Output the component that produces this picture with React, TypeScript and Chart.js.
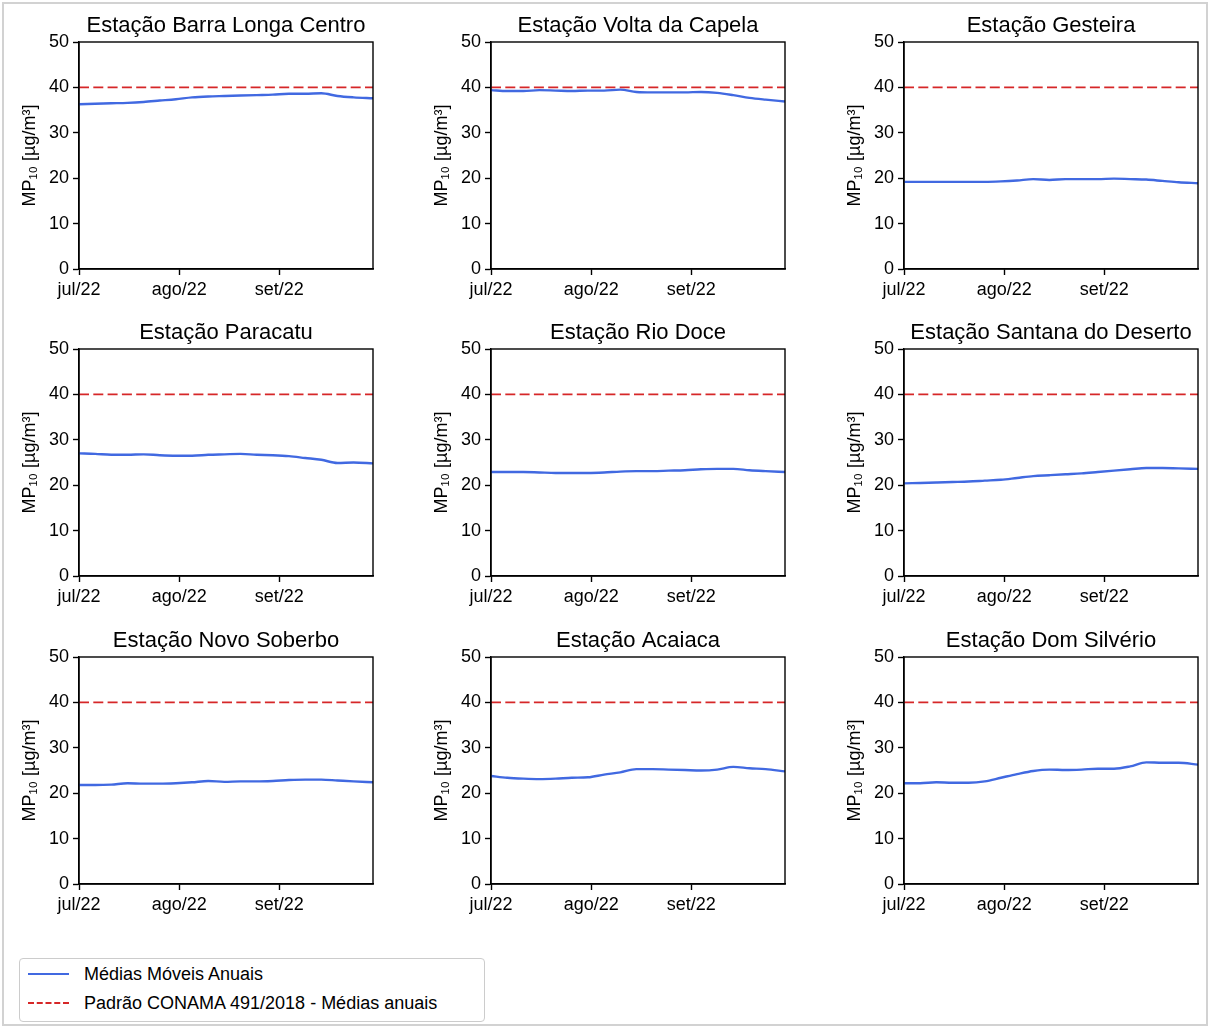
import React, { useEffect, useRef } from "react";
import { Chart, registerables } from "chart.js";

Chart.register(...registerables);

// ---------- data ----------
const days = [0, 5, 10, 15, 20, 25, 30, 35, 40, 45, 50, 55, 60, 65, 70, 75, 80, 85, 91];
const monthTicks = [0, 31, 62];
const monthLabels = ["jul/22", "ago/22", "set/22"];
const xMax = 91;
const yMin = 0;
const yMax = 50;
const yStep = 10;
const conamaLimit = 40;

const stationNames = [
  "Estação Barra Longa Centro",
  "Estação Volta da Capela",
  "Estação Gesteira",
  "Estação Paracatu",
  "Estação Rio Doce",
  "Estação Santana do Deserto",
  "Estação Novo Soberbo",
  "Estação Acaiaca",
  "Estação Dom Silvério",
];

const barraLongaCentro = [36.3, 36.4, 36.5, 36.6, 36.8, 37.1, 37.4, 37.8, 38.0, 38.1, 38.2, 38.3, 38.4, 38.6, 38.6, 38.7, 38.1, 37.8, 37.6];
const voltaDaCapela = [39.4, 39.2, 39.2, 39.4, 39.3, 39.2, 39.3, 39.3, 39.5, 39.0, 38.9, 38.9, 38.9, 39.0, 38.8, 38.3, 37.7, 37.3, 36.9];
const gesteira = [19.2, 19.2, 19.2, 19.2, 19.2, 19.2, 19.3, 19.5, 19.8, 19.6, 19.8, 19.8, 19.8, 19.9, 19.8, 19.7, 19.4, 19.1, 18.9];
const paracatu = [27.0, 26.9, 26.7, 26.7, 26.8, 26.6, 26.5, 26.5, 26.7, 26.8, 26.9, 26.7, 26.6, 26.4, 26.0, 25.6, 24.9, 25.0, 24.8];
const rioDoce = [22.9, 22.9, 22.9, 22.8, 22.7, 22.7, 22.7, 22.8, 23.0, 23.1, 23.1, 23.2, 23.3, 23.5, 23.6, 23.6, 23.3, 23.1, 22.9];
const santanaDoDeserto = [20.4, 20.5, 20.6, 20.7, 20.8, 21.0, 21.2, 21.6, 22.0, 22.2, 22.4, 22.6, 22.9, 23.2, 23.5, 23.8, 23.8, 23.7, 23.6];
const novoSoberbo = [21.8, 21.8, 21.9, 22.2, 22.1, 22.1, 22.2, 22.4, 22.7, 22.5, 22.6, 22.6, 22.7, 22.9, 23.0, 23.0, 22.8, 22.6, 22.4];
const acaiaca = [23.8, 23.4, 23.2, 23.1, 23.2, 23.4, 23.5, 24.1, 24.6, 25.3, 25.3, 25.2, 25.1, 25.0, 25.2, 25.8, 25.5, 25.3, 24.8];
const domSilverio = [22.2, 22.2, 22.4, 22.3, 22.3, 22.6, 23.4, 24.2, 24.9, 25.2, 25.1, 25.2, 25.4, 25.4, 25.9, 26.8, 26.7, 26.7, 26.3];

const stationSeries = [
  barraLongaCentro,
  voltaDaCapela,
  gesteira,
  paracatu,
  rioDoce,
  santanaDoDeserto,
  novoSoberbo,
  acaiaca,
  domSilverio,
];

const seriesLabel = "Médias Móveis Anuais";
const limitLabel = "Padrão CONAMA 491/2018 - Médias anuais";
const yAxisLabel = "MP₁₀ [µg/m³]";

// ---------- style ----------
const FONT = "'Liberation Sans', Arial, Helvetica, sans-serif";
const BLUE = "#4169e1";
const RED = "#d62728";
const DASH = [10, 4.3];

const colLefts = [0, 412, 825];
const rowTops = [0, 307, 615];
const PLOT_W = 294;
const PLOT_H = 227;
const LEFT_M = 79;
const TOP_M = 42;
const RIGHT_M = 8;
const BOTTOM_M = 40;
const CANVAS_W = LEFT_M + PLOT_W + RIGHT_M;
const CANVAS_H = TOP_M + PLOT_H + BOTTOM_M;

const framePlugin = {
  id: "frame",
  afterDatasetsDraw(chart: any) {
    const { ctx, chartArea } = chart;
    ctx.save();
    ctx.strokeStyle = "#000";
    ctx.lineWidth = 1.4;
    ctx.strokeRect(chartArea.left, chartArea.top, chartArea.right - chartArea.left, chartArea.bottom - chartArea.top);
    ctx.restore();
  },
};

function SubChart({ title, values }: { title: string; values: number[] }) {
  const ref = useRef<HTMLCanvasElement | null>(null);
  useEffect(() => {
    if (!ref.current) return;
    const axisGrid = {
      display: true,
      drawOnChartArea: false,
      drawTicks: true,
      tickLength: 6,
      tickWidth: 1.4,
      tickColor: "#000",
    };
    const chart = new Chart(ref.current, {
      type: "line",
      data: {
        datasets: [
          {
            label: seriesLabel,
            data: days.map((d, i) => ({ x: d, y: values[i] })),
            borderColor: BLUE,
            borderWidth: 2.4,
            pointRadius: 0,
            cubicInterpolationMode: "monotone",
            fill: false,
          },
          {
            label: limitLabel,
            data: [
              { x: 0, y: conamaLimit },
              { x: xMax, y: conamaLimit },
            ],
            borderColor: RED,
            borderWidth: 1.8,
            borderDash: DASH,
            pointRadius: 0,
            fill: false,
          },
        ],
      },
      options: {
        animation: false,
        responsive: false,
        events: [],
        layout: { padding: { left: 0, right: RIGHT_M, top: 0, bottom: 0 } },
        plugins: {
          legend: { display: false },
          tooltip: { enabled: false },
          title: {
            display: true,
            text: title,
            color: "#000",
            fullSize: false,
            font: { family: FONT, size: 22, weight: "normal" },
            padding: { top: 13, bottom: 2.6 },
          },
        },
        scales: {
          x: {
            type: "linear",
            min: 0,
            max: xMax,
            afterBuildTicks: (s: any) => {
              s.ticks = monthTicks.map((v) => ({ value: v }));
            },
            afterFit: (s: any) => {
              s.height = BOTTOM_M;
            },
            ticks: {
              autoSkip: false,
              maxRotation: 0,
              padding: 4,
              color: "#000",
              font: { family: FONT, size: 18 },
              callback: (v: any) => {
                const i = monthTicks.indexOf(Number(v));
                return i >= 0 ? monthLabels[i] : "";
              },
            },
            grid: axisGrid,
            border: { display: true, color: "#000", width: 1.4 },
          },
          y: {
            min: yMin,
            max: yMax,
            afterFit: (s: any) => {
              s.width = LEFT_M;
            },
            ticks: {
              stepSize: yStep,
              padding: 4,
              color: "#000",
              font: { family: FONT, size: 18 },
            },
            grid: axisGrid,
            border: { display: true, color: "#000", width: 1.4 },
            title: {
              display: true,
              text: yAxisLabel,
              color: "#000",
              font: { family: FONT, size: 18 },
              padding: { top: 19, bottom: 0 },
            },
          },
        },
      } as any,
      plugins: [framePlugin],
    });
    return () => chart.destroy();
  }, [title, values]);
  return <canvas ref={ref} width={CANVAS_W} height={CANVAS_H} style={{ width: CANVAS_W, height: CANVAS_H, display: "block" }} />;
}

export default function App() {
  return (
    <div
      style={{
        position: "absolute",
        left: 0,
        top: 0,
        width: 1212,
        height: 1029,
        background: "#fff",
        fontFamily: FONT,
        overflow: "hidden",
      }}
    >
      <div
        style={{
          position: "absolute",
          left: 2,
          top: 2,
          width: 1206,
          height: 1024,
          border: "2px solid #d2d2d2",
          boxSizing: "border-box",
        }}
      />
      {stationNames.map((name, i) => (
        <div
          key={name}
          style={{
            position: "absolute",
            left: colLefts[i % 3],
            top: rowTops[Math.floor(i / 3)],
            width: CANVAS_W,
            height: CANVAS_H,
          }}
        >
          <SubChart title={name} values={stationSeries[i]} />
        </div>
      ))}
      <div
        style={{
          position: "absolute",
          left: 19,
          top: 958,
          width: 466,
          height: 64,
          border: "1px solid #cccccc",
          borderRadius: 4,
          boxSizing: "border-box",
          background: "#fff",
          fontSize: 18,
          color: "#000",
        }}
      >
        <div style={{ position: "absolute", left: 8, top: 14, width: 41, borderTop: `2px solid ${BLUE}` }} />
        <div style={{ position: "absolute", left: 64, top: 4, height: 22, lineHeight: "22px", whiteSpace: "nowrap" }}>
          {seriesLabel}
        </div>
        <div style={{ position: "absolute", left: 8, top: 43, width: 41, borderTop: `2px dashed ${RED}` }} />
        <div style={{ position: "absolute", left: 64, top: 33, height: 22, lineHeight: "22px", whiteSpace: "nowrap" }}>
          {limitLabel}
        </div>
      </div>
    </div>
  );
}
